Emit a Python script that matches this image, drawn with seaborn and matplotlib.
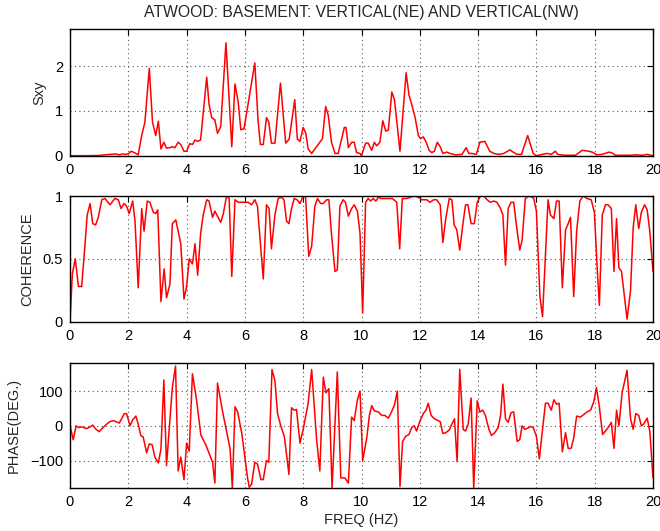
import matplotlib
matplotlib.use("Agg")
import matplotlib.pyplot as plt
import seaborn as sns
import pandas as pd

# ---------------- data ----------------
sxy_freq = [0, 0.5, 1.0, 1.2, 1.4, 1.55, 1.7, 1.8, 1.9, 2.0,
            2.1, 2.2, 2.34, 2.46, 2.57, 2.72, 2.83, 2.94, 3.03, 3.12,
            3.22, 3.31, 3.43, 3.51, 3.6, 3.71, 3.8, 3.91, 4.0, 4.11,
            4.2, 4.29, 4.38, 4.48, 4.69, 4.77, 4.86, 4.97, 5.06, 5.17,
            5.35, 5.55, 5.66, 5.77, 5.86, 5.97, 6.34, 6.45, 6.53, 6.63,
            6.74, 6.82, 6.91, 7.03, 7.22, 7.4, 7.52, 7.71, 7.8, 7.89,
            8.0, 8.09, 8.17, 8.29, 8.4, 8.57, 8.66, 8.77, 8.86, 8.97,
            9.09, 9.2, 9.29, 9.41, 9.47, 9.55, 9.66, 9.75, 9.83, 9.95,
            10.0, 10.14, 10.23, 10.35, 10.44, 10.52, 10.63, 10.73, 10.83, 10.92,
            11.04, 11.13, 11.32, 11.53, 11.63, 11.72, 11.84, 11.95, 12.03, 12.12,
            12.22, 12.32, 12.41, 12.5, 12.6, 12.7, 12.79, 12.93, 13.04, 13.22,
            13.45, 13.59, 13.68, 13.79, 13.94, 14.06, 14.23, 14.4, 14.54, 14.71,
            14.88, 15.09, 15.2, 15.34, 15.49, 15.7, 15.89, 16.0, 16.2, 16.37,
            16.51, 16.65, 16.73, 16.94, 17.34, 17.57, 17.8, 17.91, 18.08, 18.26,
            18.49, 18.6, 18.71, 19.23, 19.4, 19.63, 19.8, 20.0]
sxy_vals = [0, 0, 0.005, 0.02, 0.03, 0.04, 0.02, 0.04, 0.03, 0.04,
            0.1, 0.07, 0.02, 0.45, 0.75, 1.95, 0.75, 0.45, 0.77, 0.15,
            0.3, 0.17, 0.18, 0.2, 0.18, 0.3, 0.25, 0.1, 0.1, 0.27,
            0.25, 0.35, 0.32, 0.35, 1.75, 1.15, 0.85, 0.8, 0.5, 0.65,
            2.52, 0.2, 1.6, 1.2, 0.58, 0.6, 2.07, 0.8, 0.25, 0.25,
            0.85, 0.75, 0.28, 0.28, 1.62, 0.28, 0.37, 1.25, 0.37, 0.32,
            0.63, 0.5, 0.15, 0.05, 0.15, 0.3, 0.38, 1.1, 0.9, 0.3,
            0.05, 0.05, 0.3, 0.63, 0.63, 0.18, 0.3, 0.3, 0.07, 0.05,
            0.0, 0.28, 0.28, 0.12, 0.3, 0.22, 0.3, 0.78, 0.55, 0.57,
            1.42, 1.25, 0.1, 1.85, 1.35, 1.15, 0.85, 0.45, 0.38, 0.42,
            0.3, 0.12, 0.07, 0.1, 0.3, 0.2, 0.05, 0.08, 0.05, 0.02,
            0.03, 0.18, 0.05, 0.05, 0.03, 0.3, 0.32, 0.1, 0.05, 0.03,
            0.05, 0.13, 0.08, 0.03, 0.03, 0.45, 0.05, 0.0, 0.03, 0.05,
            0.03, 0.1, 0.03, 0.01, 0.01, 0.12, 0.1, 0.08, 0.02, 0.03,
            0.08, 0.06, 0.01, 0.01, 0.02, 0.01, 0.03, 0.0]

coh_freq = [0.0, 0.08, 0.18, 0.29, 0.4, 0.51, 0.59, 0.69, 0.78, 0.88,
            0.97, 1.09, 1.2, 1.37, 1.54, 1.66, 1.75, 1.85, 1.94, 2.03,
            2.15, 2.23, 2.34, 2.46, 2.54, 2.65, 2.74, 2.86, 2.94, 3.01,
            3.12, 3.23, 3.31, 3.43, 3.51, 3.63, 3.8, 3.91, 4.0, 4.09,
            4.2, 4.29, 4.38, 4.48, 4.57, 4.69, 4.77, 4.89, 4.97, 5.17,
            5.26, 5.37, 5.46, 5.55, 5.66, 5.77, 5.89, 6.0, 6.11, 6.23,
            6.34, 6.43, 6.63, 6.74, 6.83, 6.91, 7.03, 7.14, 7.26, 7.34,
            7.43, 7.51, 7.6, 7.69, 7.79, 7.89, 7.98, 8.08, 8.19, 8.29,
            8.4, 8.49, 8.6, 8.69, 8.8, 8.88, 8.97, 9.09, 9.17, 9.26,
            9.37, 9.45, 9.55, 9.66, 9.75, 9.86, 9.95, 10.04, 10.14, 10.23,
            10.31, 10.4, 10.49, 10.58, 10.67, 10.86, 11.06, 11.21, 11.31, 11.4,
            11.55, 11.67, 11.81, 11.95, 12.07, 12.24, 12.35, 12.47, 12.58, 12.7,
            12.79, 12.89, 13.01, 13.1, 13.18, 13.27, 13.37, 13.49, 13.57, 13.65,
            13.76, 13.87, 13.97, 14.08, 14.19, 14.31, 14.42, 14.54, 14.65, 14.77,
            14.85, 14.94, 15.03, 15.13, 15.22, 15.34, 15.43, 15.51, 15.62, 15.74,
            15.85, 15.91, 16.0, 16.12, 16.21, 16.4, 16.48, 16.6, 16.69, 16.78,
            16.89, 17.0, 17.09, 17.17, 17.28, 17.38, 17.49, 17.6, 17.74, 17.88,
            17.99, 18.08, 18.16, 18.26, 18.37, 18.46, 18.57, 18.66, 18.75, 18.83,
            18.92, 19.02, 19.11, 19.23, 19.32, 19.41, 19.51, 19.6, 19.71, 19.8,
            19.89, 20.0]
coh_vals = [0, 0.38, 0.5, 0.28, 0.28, 0.6, 0.85, 0.94, 0.78, 0.77,
            0.83, 0.97, 0.98, 0.93, 0.98, 0.97, 0.9, 0.94, 0.92, 0.86,
            0.96, 0.8, 0.27, 0.9, 0.72, 0.96, 0.95, 0.87, 0.86, 0.89,
            0.16, 0.42, 0.19, 0.3, 0.78, 0.81, 0.62, 0.18, 0.28, 0.5,
            0.46, 0.62, 0.37, 0.7, 0.85, 0.97, 0.96, 0.83, 0.88, 0.79,
            0.86, 1.0, 0.98, 0.36, 0.97, 0.95, 0.95, 0.95, 0.95, 0.93,
            0.97, 0.92, 0.34, 0.93, 0.9, 0.58, 0.85, 0.98, 0.99, 0.97,
            0.8, 0.78, 0.9, 0.98, 0.97, 0.94, 0.99, 1.0, 0.52, 0.6,
            0.92, 0.98, 0.94, 0.94, 0.97, 0.97, 0.7, 0.4, 0.41, 0.92,
            0.97, 0.95, 0.84, 0.9, 0.93, 0.88, 0.7, 0.07, 0.95, 0.98,
            0.96, 0.98, 0.96, 0.99, 0.98, 0.98, 0.98, 0.95, 0.58, 0.98,
            0.98, 0.99, 1.0, 0.99, 0.97, 0.97, 0.95, 0.97, 0.97, 0.93,
            0.63, 0.82, 0.98, 0.97, 0.77, 0.73, 0.57, 0.8, 0.93, 0.93,
            0.78, 0.78, 0.95, 1.0, 1.0, 0.97, 0.95, 0.96, 0.95, 0.9,
            0.85, 0.45, 0.9, 0.95, 0.95, 0.72, 0.57, 0.65, 0.98, 1.0,
            0.99, 0.98, 0.88, 0.2, 0.04, 0.97, 0.85, 0.82, 0.96, 0.96,
            0.27, 0.73, 0.78, 0.83, 0.2, 0.72, 0.96, 1.0, 0.98, 0.97,
            0.87, 0.45, 0.13, 0.85, 0.93, 0.93, 0.9, 0.4, 0.82, 0.43,
            0.4, 0.2, 0.02, 0.25, 0.75, 0.93, 0.74, 0.87, 0.93, 0.89,
            0.72, 0.4]

phase_freq = [0, 0.11, 0.21, 0.29, 0.4, 0.57, 0.69, 0.78, 0.89, 1.0,
              1.11, 1.26, 1.37, 1.49, 1.6, 1.69, 1.77, 1.86, 1.94, 2.06,
              2.15, 2.26, 2.34, 2.43, 2.51, 2.63, 2.72, 2.82, 2.91, 3.03,
              3.12, 3.22, 3.31, 3.51, 3.62, 3.71, 3.8, 3.91, 4.0, 4.09,
              4.2, 4.34, 4.49, 4.66, 4.8, 4.89, 4.97, 5.06, 5.26, 5.43,
              5.49, 5.57, 5.66, 5.75, 5.89, 6.0, 6.09, 6.15, 6.23, 6.34,
              6.43, 6.55, 6.63, 6.74, 6.82, 6.93, 7.03, 7.12, 7.23, 7.35,
              7.44, 7.51, 7.6, 7.69, 7.77, 7.89, 8.0, 8.17, 8.29, 8.46,
              8.57, 8.69, 8.78, 8.88, 8.99, 9.17, 9.29, 9.43, 9.55, 9.66,
              9.75, 9.86, 9.95, 10.04, 10.18, 10.27, 10.35, 10.44, 10.58, 10.69,
              10.8, 10.92, 11.03, 11.13, 11.23, 11.32, 11.41, 11.52, 11.63, 11.72,
              11.81, 11.89, 12.01, 12.12, 12.21, 12.29, 12.39, 12.5, 12.62, 12.7,
              12.79, 12.89, 13.01, 13.1, 13.19, 13.28, 13.37, 13.49, 13.57, 13.66,
              13.76, 13.85, 13.97, 14.06, 14.16, 14.25, 14.37, 14.46, 14.57, 14.69,
              14.77, 14.85, 14.94, 15.03, 15.13, 15.22, 15.34, 15.43, 15.51, 15.6,
              15.7, 15.8, 15.89, 16.0, 16.1, 16.31, 16.4, 16.51, 16.6, 16.69,
              16.78, 16.89, 17.0, 17.09, 17.19, 17.28, 17.38, 17.51, 17.63, 17.74,
              17.86, 17.97, 18.06, 18.16, 18.27, 18.37, 18.46, 18.57, 18.66, 18.75,
              18.83, 18.94, 19.03, 19.11, 19.23, 19.32, 19.41, 19.51, 19.6, 19.68,
              19.8, 19.89, 20.0]
phase_vals = [0, -40, 0, -5, -3, -8, -3, 2, -10, -17,
              -7, 5, 12, 15, 11, 8, 20, 35, 35, 0,
              17, 28, 5, -28, -32, -78, -52, -55, -90, -107,
              -67, 132, -115, 110, 172, -130, -90, -155, -50, -73,
              150, 75, -27, -55, -85, -105, -165, 123, 30, -40,
              -65, -180, 55, 40, -20, -90, -150, -177, -168, -105,
              -110, -155, -155, -100, -105, 162, 130, 35, 0, -30,
              -90, -140, 52, 45, 47, -50, -10, 65, 162, -40,
              -130, 140, 95, 107, -180, 155, -150, -150, -165, 25,
              15, 75, 100, -100, -35, 30, 58, 43, 40, 30,
              30, 22, 40, 60, 100, -175, -45, -30, -25, -5,
              0, -15, 15, 35, 45, 65, 30, 20, 15, 12,
              -22, -20, -12, 5, 20, -103, 163, -11, -15, 5,
              80, -180, 72, 40, 45, 30, -10, -28, -20, -5,
              30, 120, 20, 10, 38, 40, -45, -40, 0, -10,
              -7, -2, -5, -30, -95, 65, 65, 45, 75, 62,
              65, -75, -20, -65, -65, -35, 28, 25, 33, 40,
              45, 70, 110, 55, -25, -15, -5, 10, -65, 45,
              0, 95, 130, 160, 20, -10, 35, 30, 0, 5,
              22, -15, -150]

x_ticks = [0, 2, 4, 6, 8, 10, 12, 14, 16, 18, 20]
sxy_ticks = [0, 1, 2]
coh_ticks = [0, 0.5, 1]
coh_ticklabels = ["0", "0.5", "1"]
phase_ticks = [-100, 0, 100]

title = "ATWOOD: BASEMENT: VERTICAL(NE) AND VERTICAL(NW)"
xlabel = "FREQ (HZ)"
ylabels = ["Sxy", "COHERENCE", "PHASE(DEG.)"]

# ---------------- style ----------------
sns.set_style("white")
plt.rcParams["font.family"] = ["Liberation Sans", "DejaVu Sans"]

W, H = 660, 531
fig = plt.figure(figsize=(W / 100, H / 100), dpi=100)

left, right = 70 / W, 653 / W
panels = [(29.3, 155.7), (196.0, 321.7), (363.3, 488.3)]  # top, bottom in px
axes = []
for (t, b) in panels:
    ax = fig.add_axes([left, 1 - b / H, right - left, (b - t) / H])
    axes.append(ax)

frames = [
    pd.DataFrame({"freq": sxy_freq, "val": sxy_vals}),
    pd.DataFrame({"freq": coh_freq, "val": coh_vals}),
    pd.DataFrame({"freq": phase_freq, "val": phase_vals}),
]
ylims = [(0, 2.82), (0, 1), (-180, 180)]
yticks = [sxy_ticks, coh_ticks, phase_ticks]
label_x = [46, 34, 21]

for i, (ax, df) in enumerate(zip(axes, frames)):
    sns.lineplot(data=df, x="freq", y="val", ax=ax, color="#ff0000",
                 linewidth=1.1, estimator=None, sort=False)
    ax.set_xlim(0, 20)
    ax.set_ylim(*ylims[i])
    ax.set_xticks(x_ticks)
    ax.set_xticklabels([str(v) for v in x_ticks])
    ax.set_yticks(yticks[i])
    if i == 1:
        ax.set_yticklabels(coh_ticklabels)
    ax.grid(True, linestyle=(0, (1, 3)), color="#555555", linewidth=0.8)
    ax.tick_params(direction="in", top=True, right=True, length=4, width=0.8,
                   labelsize=10.5, pad=5, colors="black")
    for s in ax.spines.values():
        s.set_visible(True)
        s.set_color("black")
        s.set_linewidth(1.0)
    ax.set_xlabel("")
    ax.set_ylabel(ylabels[i], fontsize=10.5)
    ax.yaxis.set_label_coords((label_x[i] - 70) / (653 - 70), 0.5)

axes[2].set_xlabel(xlabel, fontsize=10.5)
axes[2].xaxis.set_label_coords(0.5, -(513 - 488.3) / (488.3 - 363.3))

fig.text((left + right) / 2, 1 - 12 / H, title, ha="center", va="center",
         fontsize=11.3)

fig.savefig("out.png", dpi=100)
